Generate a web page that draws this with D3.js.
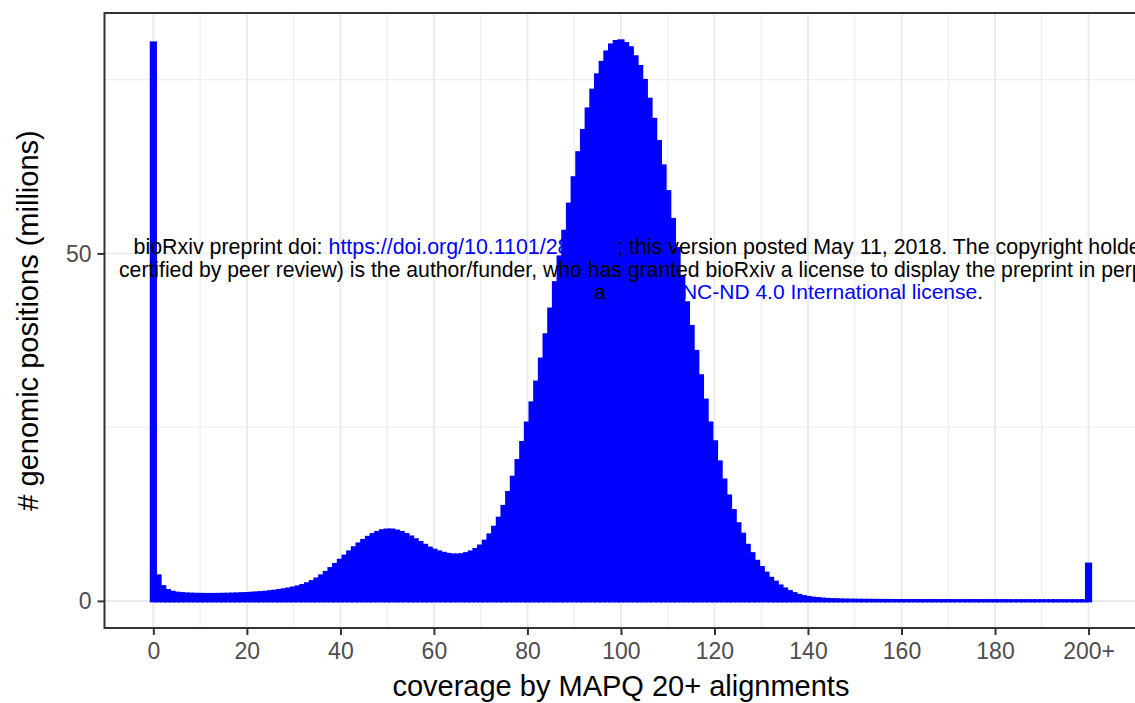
<!DOCTYPE html>
<html>
<head>
<meta charset="utf-8">
<script src="https://cdn.jsdelivr.net/npm/d3@7"></script>
<style>
  html, body { margin: 0; padding: 0; background: #ffffff; overflow: hidden; }
  svg { display: block; }
</style>
</head>
<body>
<svg id="chart" width="1135" height="703"></svg>
<script>
// ---------- data ----------
// coverage values (x) 0..200 ("200+" bin at 200)
const coverage = d3.range(0, 201);
// number of genomic positions, millions, for each coverage value 0..200
const positionsMillions = [
  80.3, 3.6, 2.05, 1.5, 1.25, 1.12, 1.05, 1.0, 0.97, 0.95,
  0.94, 0.93, 0.93, 0.93, 0.94, 0.95, 0.96, 0.98, 1.0, 1.03,
  1.06, 1.1, 1.14, 1.19, 1.25, 1.32, 1.4, 1.49, 1.6, 1.72,
  1.86, 2.02, 2.22, 2.47, 2.78, 3.15, 3.6, 4.1, 4.65, 5.25,
  5.85, 6.45, 7.05, 7.65, 8.2, 8.7, 9.15, 9.55, 9.85, 10.1,
  10.2, 10.2, 10.05, 9.85, 9.55, 9.2, 8.8, 8.4, 8.0, 7.6,
  7.3, 7.05, 6.85, 6.7, 6.6, 6.6, 6.65, 6.8, 7.05, 7.4,
  7.9, 8.6, 9.5, 10.6, 11.9, 13.6, 15.6, 17.8, 20.2, 22.8,
  25.6, 28.5, 31.5, 34.8, 38.3, 42.0, 45.8, 49.5, 53.2, 57.1,
  60.9, 64.5, 67.7, 70.8, 73.5, 75.7, 77.5, 79.0, 80.0, 80.5,
  80.6, 80.2, 79.6, 78.3, 76.9, 74.9, 72.2, 69.3, 66.1, 62.6,
  58.9, 54.9, 50.7, 46.7, 42.9, 39.5, 35.9, 32.4, 28.9, 25.6,
  22.9, 20.0, 17.4, 15.1, 13.0, 11.1, 9.6, 8.0, 6.8, 5.7,
  4.8, 4.0, 3.25, 2.7, 2.15, 1.72, 1.34, 1.05, 0.8, 0.62,
  0.5, 0.4, 0.33, 0.27, 0.22, 0.19, 0.16, 0.14, 0.12, 0.11,
  0.1, 0.09, 0.09, 0.08, 0.08, 0.07, 0.07, 0.07, 0.06, 0.06,
  0.06, 0.06, 0.05, 0.05, 0.05, 0.05, 0.05, 0.05, 0.04, 0.04,
  0.04, 0.04, 0.04, 0.04, 0.04, 0.04, 0.04, 0.04, 0.04, 0.04,
  0.04, 0.04, 0.03, 0.03, 0.03, 0.03, 0.03, 0.03, 0.03, 0.03,
  0.03, 0.03, 0.03, 0.03, 0.03, 0.03, 0.03, 0.03, 0.03, 0.03,
  5.3
];
const xTicks = [0, 20, 40, 60, 80, 100, 120, 140, 160, 180, 200];
const xTickLabels = ["0", "20", "40", "60", "80", "100", "120", "140", "160", "180", "200+"];
const xMinorTicks = [10, 30, 50, 70, 90, 110, 130, 150, 170, 190];
const yTicks = [0, 50];
const yTickLabels = ["0", "50"];
const yMinorTicks = [25, 75];
const xTitle = "coverage by MAPQ 20+ alignments";
const yTitle = "# genomic positions (millions)";
const stampLine1 = [
  {t: "bioRxiv preprint doi: ", link: false},
  {t: "https://doi.org/10.1101/285049", link: true},
  {t: "; this version posted May 11, 2018. The copyright holder for this preprint (which was not", link: false}
];
const stampLine2 = [
  {t: "certified by peer review) is the author/funder, who has granted bioRxiv a license to display the preprint in perpetuity. It is made available under", link: false}
];
const stampLine3 = [
  {t: "a ", link: false},
  {t: "CC-BY-NC-ND 4.0 International license", link: true},
  {t: ".", link: false}
];

// ---------- layout ----------
const FONT = "'Liberation Sans', Arial, Helvetica, sans-serif";
const panel = {left: 104.5, top: 13, right: 1137.4, bottom: 628};
const svg = d3.select("#chart");

const x = d3.scaleLinear().domain([-10.45, 210.45]).range([panel.left, panel.right]);
const y = d3.scaleLinear().domain([-3.9, 84.6]).range([panel.bottom, panel.top]);

svg.append("defs").append("clipPath").attr("id", "pclip")
  .append("rect").attr("x", panel.left).attr("y", panel.top)
  .attr("width", panel.right - panel.left).attr("height", panel.bottom - panel.top);

// background
svg.append("rect").attr("x", panel.left).attr("y", panel.top)
  .attr("width", panel.right - panel.left).attr("height", panel.bottom - panel.top)
  .attr("fill", "#ffffff");

const grid = svg.append("g").attr("clip-path", "url(#pclip)");
grid.selectAll(".vminor").data(xMinorTicks).enter().append("line")
  .attr("x1", d => x(d)).attr("x2", d => x(d))
  .attr("y1", panel.top).attr("y2", panel.bottom)
  .attr("stroke", "#EBEBEB").attr("stroke-width", 1);
grid.selectAll(".hminor").data(yMinorTicks).enter().append("line")
  .attr("x1", panel.left).attr("x2", panel.right)
  .attr("y1", d => y(d)).attr("y2", d => y(d))
  .attr("stroke", "#EBEBEB").attr("stroke-width", 1);
grid.selectAll(".vmajor").data(xTicks).enter().append("line")
  .attr("x1", d => x(d)).attr("x2", d => x(d))
  .attr("y1", panel.top).attr("y2", panel.bottom)
  .attr("stroke", "#EBEBEB").attr("stroke-width", 2);
grid.selectAll(".hmajor").data(yTicks).enter().append("line")
  .attr("x1", panel.left).attr("x2", panel.right)
  .attr("y1", d => y(d)).attr("y2", d => y(d))
  .attr("stroke", "#EBEBEB").attr("stroke-width", 2);

// bars
const data = coverage.map((c, i) => ({c: c, v: positionsMillions[i]}));
svg.append("g").attr("clip-path", "url(#pclip)")
  .selectAll("rect").data(data).enter().append("rect")
  .attr("x", d => x(d.c - 0.45))
  .attr("width", d => x(d.c + 0.45) - x(d.c - 0.45))
  .attr("y", d => y(d.v))
  .attr("height", d => y(0) - y(d.v))
  .attr("fill", "#0000FF")
  .attr("stroke", "#0000FF")
  .attr("stroke-width", 3);

// panel border
svg.append("rect").attr("x", panel.left).attr("y", panel.top)
  .attr("width", panel.right - panel.left).attr("height", panel.bottom - panel.top)
  .attr("fill", "none").attr("stroke", "#333333").attr("stroke-width", 2);

// axes
const xAxis = d3.axisBottom(x).tickValues(xTicks)
  .tickFormat((d, i) => xTickLabels[i]).tickSizeInner(7).tickSizeOuter(0).tickPadding(8);
const gx = svg.append("g").attr("transform", `translate(0,${panel.bottom})`).call(xAxis);
gx.select(".domain").remove();
gx.selectAll(".tick line").attr("stroke", "#333333").attr("stroke-width", 2);
gx.selectAll(".tick text").attr("fill", "#4D4D4D").attr("font-family", FONT)
  .attr("font-size", 23).attr("dy", "0.71em");

const yAxis = d3.axisLeft(y).tickValues(yTicks)
  .tickFormat((d, i) => yTickLabels[i]).tickSizeInner(7).tickSizeOuter(0).tickPadding(6);
const gy = svg.append("g").attr("transform", `translate(${panel.left},0)`).call(yAxis);
gy.select(".domain").remove();
gy.selectAll(".tick line").attr("stroke", "#333333").attr("stroke-width", 2);
gy.selectAll(".tick text").attr("fill", "#4D4D4D").attr("font-family", FONT)
  .attr("font-size", 23).attr("dy", "0.35em");

// titles
svg.append("text").attr("x", (panel.left + panel.right) / 2).attr("y", 696)
  .attr("text-anchor", "middle").attr("font-family", FONT).attr("font-size", 29)
  .attr("fill", "#000000").text(xTitle);
svg.append("text").attr("transform", `translate(38,${(panel.top + panel.bottom) / 2}) rotate(-90)`)
  .attr("text-anchor", "middle").attr("font-family", FONT).attr("font-size", 29)
  .attr("fill", "#000000").text(yTitle);

// bioRxiv stamp (drawn over the chart)
function stamp(parts, x0, yb, size) {
  const t = svg.append("text").attr("x", x0).attr("y", yb)
    .attr("font-family", FONT).attr("font-size", size).attr("fill", "#000000")
    .attr("xml:space", "preserve").style("white-space", "pre");
  parts.forEach(p => t.append("tspan").attr("fill", p.link ? "#0000FF" : "#000000").text(p.t));
}
stamp(stampLine1, 133.5, 254, 21.4);
stamp(stampLine2, 119, 277, 21.2);
stamp(stampLine3, 594, 299, 21);
</script>
</body>
</html>
